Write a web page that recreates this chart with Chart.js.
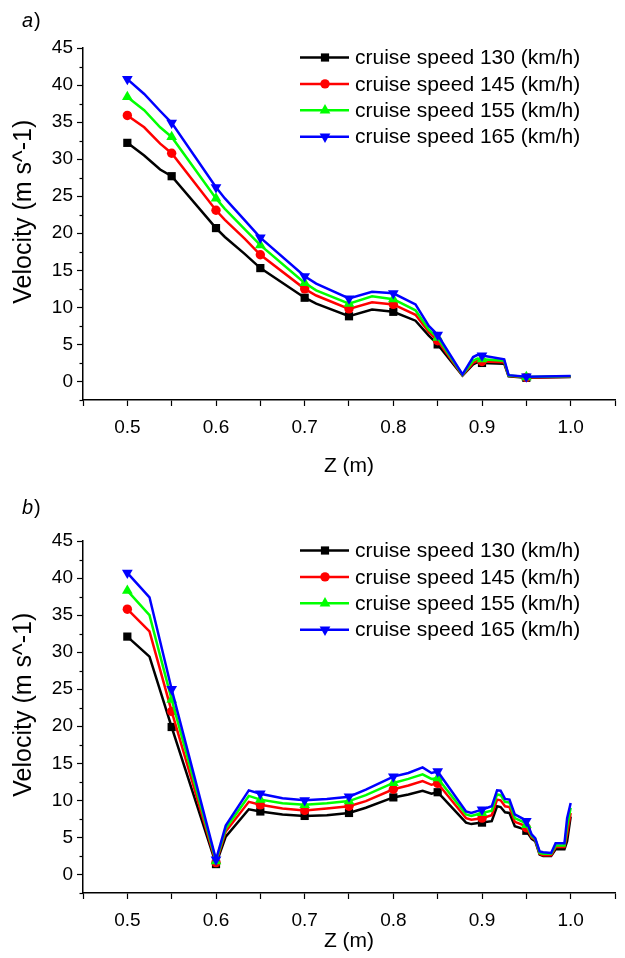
<!DOCTYPE html>
<html>
<head>
<meta charset="utf-8">
<script src="https://cdn.jsdelivr.net/npm/chart.js@4.4.1/dist/chart.umd.min.js"></script>
<style>
  html, body { margin: 0; padding: 0; background: #fff; }
  #wrap { position: relative; width: 625px; height: 958px; overflow: hidden; }
  canvas { position: absolute; left: 0; }
  #chartA { top: 0; }
  #chartB { top: 493px; }
</style>
</head>
<body>
<div id="wrap">
  <canvas id="chartA" width="625" height="493"></canvas>
  <canvas id="chartB" width="625" height="465"></canvas>
</div>
<script>
// series names
const seriesLabels = [
  'cruise speed 130 (km/h)',
  'cruise speed 145 (km/h)',
  'cruise speed 155 (km/h)',
  'cruise speed 165 (km/h)',
];

// positions where a marker is drawn
const markerZ = [0.5, 0.55, 0.6, 0.65, 0.7, 0.75, 0.8, 0.85, 0.9, 0.95];

// panel a)
const zA = [0.5, 0.519, 0.537, 0.55, 0.6, 0.61, 0.632, 0.65, 0.7, 0.713, 0.75, 0.776, 0.8,
  0.825, 0.84, 0.85, 0.878, 0.89, 0.895, 0.9, 0.925, 0.93, 0.95, 1.0];
const a130 = [32.2, 30.5, 28.6, 27.7, 20.7, 19.5, 17.25, 15.3, 11.3, 10.5, 8.8, 9.7, 9.4,
  8.2, 6.2, 5.0, 0.8, 2.3, 2.6, 2.5, 2.4, 0.7, 0.5, 0.6];
const a145 = [35.9, 34.3, 32.1, 30.8, 23.1, 21.8, 19.3, 17.1, 12.5, 11.6, 9.8, 10.7, 10.4,
  9.0, 6.7, 5.5, 0.85, 2.5, 2.8, 2.7, 2.6, 0.75, 0.55, 0.65];
const a155 = [38.4, 36.6, 34.3, 33.0, 24.7, 23.3, 20.6, 18.4, 13.3, 12.3, 10.5, 11.5, 11.1,
  9.6, 7.0, 5.9, 0.9, 2.8, 3.1, 3.0, 2.8, 0.8, 0.6, 0.7];
const a165 = [40.8, 38.8, 36.5, 34.9, 26.2, 24.7, 21.8, 19.4, 14.2, 13.2, 11.2, 12.1, 11.9,
  10.4, 7.5, 6.3, 0.95, 3.3, 3.6, 3.5, 3.0, 0.85, 0.65, 0.75];

// panel b)
const zB = [0.5, 0.525, 0.55, 0.6, 0.611, 0.637, 0.65, 0.675, 0.7, 0.725, 0.75, 0.769, 0.8,
  0.817, 0.833, 0.843, 0.85, 0.882, 0.888, 0.9, 0.911, 0.917, 0.921, 0.926, 0.931, 0.937,
  0.948, 0.95, 0.956, 0.96, 0.965, 0.969, 0.978, 0.983, 0.993, 0.996, 1.0];
const b130 = [32.1, 29.4, 19.9, 1.4, 5.1, 8.8, 8.5, 8.1, 7.9, 8.0, 8.3, 9.0, 10.4,
  10.8, 11.3, 10.9, 11.1, 7.0, 6.8, 7.0, 7.2, 9.2, 9.1, 8.4, 8.3, 6.5,
  6.1, 5.9, 4.8, 4.5, 2.7, 2.5, 2.5, 3.4, 3.4, 4.5, 7.8];
const b145 = [35.8, 32.8, 22.0, 1.6, 5.8, 9.8, 9.4, 8.9, 8.65, 8.9, 9.2, 9.9, 11.5,
  12.0, 12.6, 12.1, 12.3, 7.6, 7.4, 7.6, 8.0, 10.1, 10.0, 9.2, 9.1, 7.1,
  6.6, 6.3, 5.0, 4.7, 2.8, 2.6, 2.6, 3.7, 3.7, 5.5, 8.3];
const b155 = [38.3, 35.0, 23.6, 1.8, 6.2, 10.6, 10.1, 9.6, 9.4, 9.6, 9.9, 10.7, 12.35,
  12.9, 13.5, 12.9, 13.0, 8.1, 7.9, 8.3, 8.6, 10.8, 10.7, 9.8, 9.7, 7.6,
  7.0, 6.7, 5.2, 4.8, 2.9, 2.8, 2.8, 3.9, 3.9, 6.5, 9.0];
const b165 = [40.7, 37.4, 25.0, 2.0, 6.6, 11.35, 10.9, 10.3, 10.0, 10.2, 10.5, 11.45, 13.2,
  13.7, 14.45, 13.7, 13.9, 8.5, 8.3, 8.75, 9.2, 11.35, 11.3, 10.2, 10.1, 8.1,
  7.4, 7.2, 5.4, 4.9, 3.1, 3.0, 2.9, 4.2, 4.2, 7.6, 9.65];

const seriesColors = ['#000000', '#ff0000', '#00ff00', '#0000ff'];
const seriesPoints = ['rect', 'circle', 'triangle', 'triangle'];
const seriesRotation = [0, 0, 0, 180];
const seriesRadius = [5.8, 4.7, 6.2, 6.2];

const FONT = "'Liberation Sans', Arial, sans-serif";
Chart.defaults.font.family = FONT;
Chart.defaults.font.size = 19;
Chart.defaults.color = '#000';

const isMarker = z => markerZ.some(m => Math.abs(m - z) < 1e-6);

function makeDatasets(zs, seriesValues) {
  return seriesValues.map((vals, i) => ({
    label: seriesLabels[i],
    data: zs.map((z, k) => ({ x: z, y: vals[k] })),
    borderColor: seriesColors[i],
    backgroundColor: seriesColors[i],
    borderWidth: 2.5,
    pointStyle: seriesPoints[i],
    pointRotation: seriesRotation[i],
    pointBorderWidth: 0,
    pointRadius: ctx => (ctx.raw && isMarker(ctx.raw.x)) ? seriesRadius[i] : 0,
    tension: 0,
    order: 3 - i,
  }));
}

const extrasPlugin = {
  id: 'extras',
  afterDraw(chart, args, opts) {
    const ctx = chart.ctx;
    const area = chart.chartArea;
    const y = chart.scales.y;

    // minor y ticks
    ctx.save();
    ctx.strokeStyle = '#000';
    ctx.lineWidth = 1.2;
    y.ticks.forEach(t => {
      if (Math.abs(t.value % 5) > 1e-6) {
        const py = Math.round(y.getPixelForValue(t.value)) + 0.5;
        ctx.beginPath();
        ctx.moveTo(area.left - 3.5, py);
        ctx.lineTo(area.left, py);
        ctx.stroke();
      }
    });
    ctx.restore();

    // y axis title, sits a little above the middle of the axis
    ctx.save();
    ctx.translate(24, area.top + (area.bottom - area.top) * 0.465);
    ctx.rotate(-Math.PI / 2);
    ctx.fillStyle = '#000';
    ctx.font = '25px ' + FONT;
    ctx.textAlign = 'center';
    ctx.textBaseline = 'middle';
    ctx.fillText(opts.yTitle, 0, 0);
    ctx.restore();

    // legend with line + marker
    chart.data.datasets.forEach((ds, i) => {
      const ly = area.top + 9.5 + i * 26.4;
      ctx.save();
      ctx.strokeStyle = ds.borderColor;
      ctx.lineWidth = ds.borderWidth;
      ctx.beginPath();
      ctx.moveTo(300, ly);
      ctx.lineTo(349, ly);
      ctx.stroke();
      ctx.fillStyle = ds.backgroundColor;
      Chart.helpers.drawPoint(ctx, {
        pointStyle: ds.pointStyle,
        rotation: ds.pointRotation,
        radius: seriesRadius[i],
        borderWidth: 0,
      }, 325, ly);
      ctx.fillStyle = '#000';
      ctx.font = '21px ' + FONT;
      ctx.textBaseline = 'middle';
      ctx.textAlign = 'left';
      ctx.fillText(ds.label, 355, ly + 1);
      ctx.restore();
    });

    // panel letter
    ctx.save();
    ctx.fillStyle = '#000';
    ctx.textBaseline = 'alphabetic';
    ctx.font = 'italic 20px ' + FONT;
    ctx.fillText(opts.letter, 22, opts.letterY);
    const w = ctx.measureText(opts.letter).width;
    ctx.font = '20px ' + FONT;
    ctx.fillText(')', 22 + w + 1, opts.letterY);
    ctx.restore();
  },
};

function makeChart(id, letter, letterY, zs, seriesValues, xHeight, titleGap) {
  return new Chart(document.getElementById(id), {
    type: 'line',
    data: { datasets: makeDatasets(zs, seriesValues) },
    options: {
      responsive: false,
      animation: false,
      events: [],
      layout: { padding: { top: 48, right: 2, left: 0, bottom: 0 } },
      plugins: {
        legend: { display: false },
        tooltip: { enabled: false },
        extras: { letter, letterY, yTitle: 'Velocity (m s^-1)' },
      },
      scales: {
        x: {
          type: 'linear',
          min: 0.45,
          max: 1.05,
          afterFit: s => { s.height = xHeight; },
          border: { display: true, color: '#000', width: 1.5 },
          grid: { display: true, drawOnChartArea: false, tickLength: 6, tickColor: '#000', tickWidth: 1.2 },
          ticks: {
            stepSize: 0.05,
            autoSkip: false,
            maxRotation: 0,
            padding: 10,
            callback: v => {
              const t = Math.round(v * 100);
              return t % 10 === 0 ? (t / 100).toFixed(1) : '';
            },
          },
          title: { display: true, text: 'Z (m)', font: { size: 21 }, padding: { top: 2, bottom: titleGap } },
        },
        y: {
          min: -2.5,
          max: 45,
          afterFit: s => { s.width = 83; },
          border: { display: true, color: '#000', width: 1.5 },
          grid: {
            display: true,
            drawOnChartArea: false,
            tickLength: 6,
            tickWidth: 1.2,
            tickColor: c => (Math.abs(c.tick.value % 5) < 1e-6 ? '#000' : 'rgba(0,0,0,0)'),
          },
          ticks: {
            stepSize: 2.5,
            autoSkip: false,
            padding: 4,
            callback: v => (Math.abs(v % 5) < 1e-6 ? String(v) : ''),
          },
        },
      },
    },
    plugins: [extrasPlugin],
  });
}

makeChart('chartA', 'a', 27, zA, [a130, a145, a155, a165], 93, 14);
makeChart('chartB', 'b', 21, zB, [b130, b145, b155, b165], 65, 4);
</script>
</body>
</html>
